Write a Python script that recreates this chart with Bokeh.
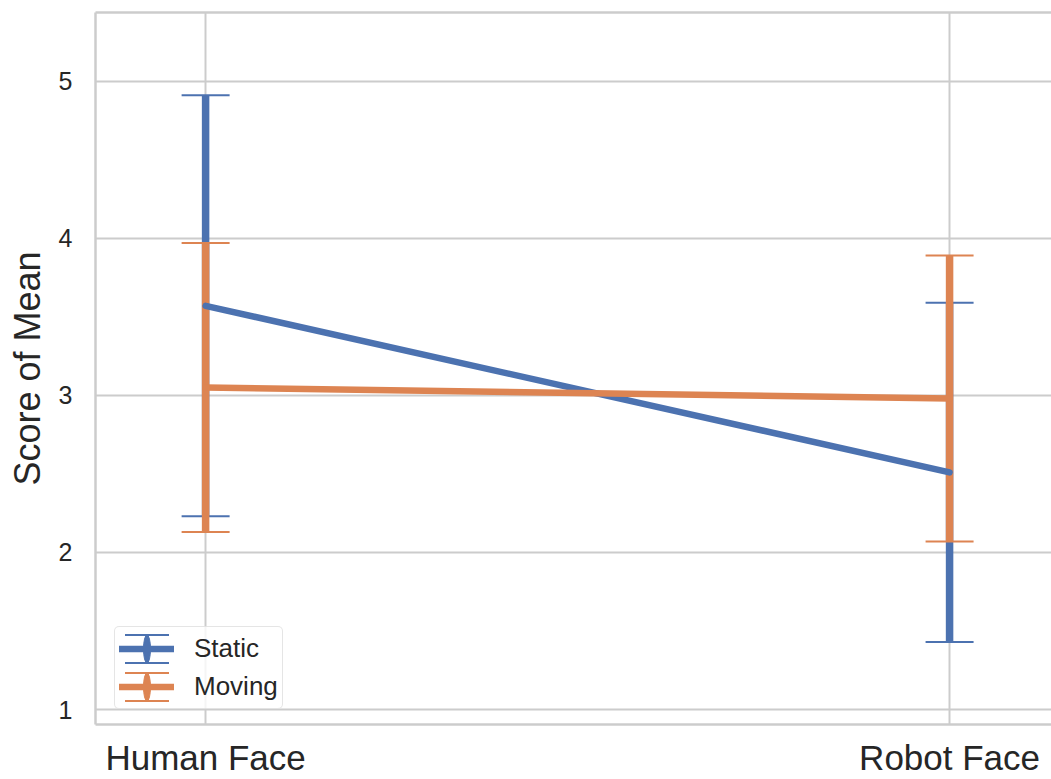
import math
from bokeh.plotting import figure
from bokeh.models import (ColumnDataSource, FixedTicker, Legend, LegendItem,
                          Range1d, LinearAxis)
from bokeh.embed import file_html
from bokeh.resources import INLINE

# ---- data ----
categories = ["Human Face", "Robot Face"]
series_names = ["Static", "Moving"]
static_mean = [3.57, 2.51]
static_low = [2.23, 1.43]
static_high = [4.91, 3.59]
moving_mean = [3.05, 2.98]
moving_low = [2.13, 2.07]
moving_high = [3.97, 3.89]
y_ticks = [1, 2, 3, 4, 5]
colors = ["#4C72B0", "#DD8452"]

FONT = "Liberation Sans"
TXT = "#262626"
GRID = "#cccccc"
NAN = float("nan")

x = list(range(len(categories)))

p = figure(width=1051, height=779,
           x_range=Range1d(-0.148, 1.137), y_range=Range1d(0.905, 5.4375),
           output_backend="svg", toolbar_location=None,
           min_border_left=95, min_border_right=0, min_border_top=12,
           min_border_bottom=52)
p.outline_line_color = None
p.background_fill_color = "white"

# grid
p.xgrid.ticker = FixedTicker(ticks=x)
p.ygrid.ticker = FixedTicker(ticks=y_ticks)
for g in (p.xgrid, p.ygrid):
    g.grid_line_color = GRID
    g.grid_line_width = 2

# axes
xa = p.xaxis[0]
xa.ticker = FixedTicker(ticks=x)
xa.major_label_overrides = {i: c for i, c in zip(x, categories)}
ya = p.yaxis[0]
ya.ticker = FixedTicker(ticks=y_ticks)
ya.axis_label = "Score of Mean"
ya.axis_label_text_font_size = "36px"
ya.axis_label_text_font_style = "normal"
ya.axis_label_text_font = FONT
ya.axis_label_text_color = TXT
ya.axis_label_standoff = 8
ya.major_label_standoff = 23
ya.major_label_text_font_size = "25px"
xa.major_label_standoff = 13
xa.major_label_text_font_size = "35px"
for a in (xa, ya):
    a.major_label_text_font = FONT
    a.major_label_text_color = TXT
    a.major_tick_out = 0
    a.major_tick_in = 0
    a.minor_tick_out = 0
    a.minor_tick_in = 0
    a.axis_line_color = GRID
    a.axis_line_width = 2.5

top = LinearAxis(ticker=FixedTicker(ticks=[]), major_label_text_font_size="0px",
                 major_tick_out=0, major_tick_in=0, minor_tick_out=0, minor_tick_in=0,
                 major_label_standoff=0, axis_line_color=GRID, axis_line_width=2.5)
p.add_layout(top, "above")

means = [static_mean, moving_mean]
lows = [static_low, moving_low]
highs = [static_high, moving_high]

sources = []
for i in range(2):
    sources.append(ColumnDataSource(dict(x=x, mean=means[i], low=lows[i], high=highs[i])))

# error bars
for i in range(2):
    s = sources[i]
    c = colors[i]
    p.segment(x0="x", y0="low", x1="x", y1="high", source=s, line_color=c, line_width=7.5)
    p.scatter(x="x", y="low", source=s, marker="dash", size=48, line_color=c, line_width=2)
    p.scatter(x="x", y="high", source=s, marker="dash", size=48, line_color=c, line_width=2)

# mean lines
lines = []
for i in range(2):
    lines.append(p.line(x="x", y="mean", source=sources[i], line_color=colors[i],
                        line_width=6.5, line_cap="round"))

# legend-only glyphs (NaN position: not drawn in the plot area)
items = []
for i in range(2):
    c = colors[i]
    caps = p.rect(x=[NAN], y=[NAN], width=1, height=1, fill_alpha=0, line_color=c,
                  line_width=2, line_dash="44 28")
    bar = p.ellipse(x=[NAN], y=[NAN], width=7, height=28,
                    width_units="screen", height_units="screen",
                    fill_color=c, line_color=c, line_width=1)
    items.append(LegendItem(label=series_names[i], renderers=[caps, bar, lines[i]]))

legend = Legend(items=items, location=(19, 15), orientation="vertical",
                glyph_width=55, glyph_height=35, label_standoff=20,
                label_text_font=FONT, label_text_font_size="26px", label_text_color=TXT,
                padding=4, spacing=3, margin=0,
                border_line_color=GRID, border_line_width=1.5,
                background_fill_color="white", background_fill_alpha=0.8)
if "border_radius" in Legend.properties():
    legend.border_radius = 5
p.add_layout(legend, "center")

open("out.html", "w").write(file_html(p, INLINE))
